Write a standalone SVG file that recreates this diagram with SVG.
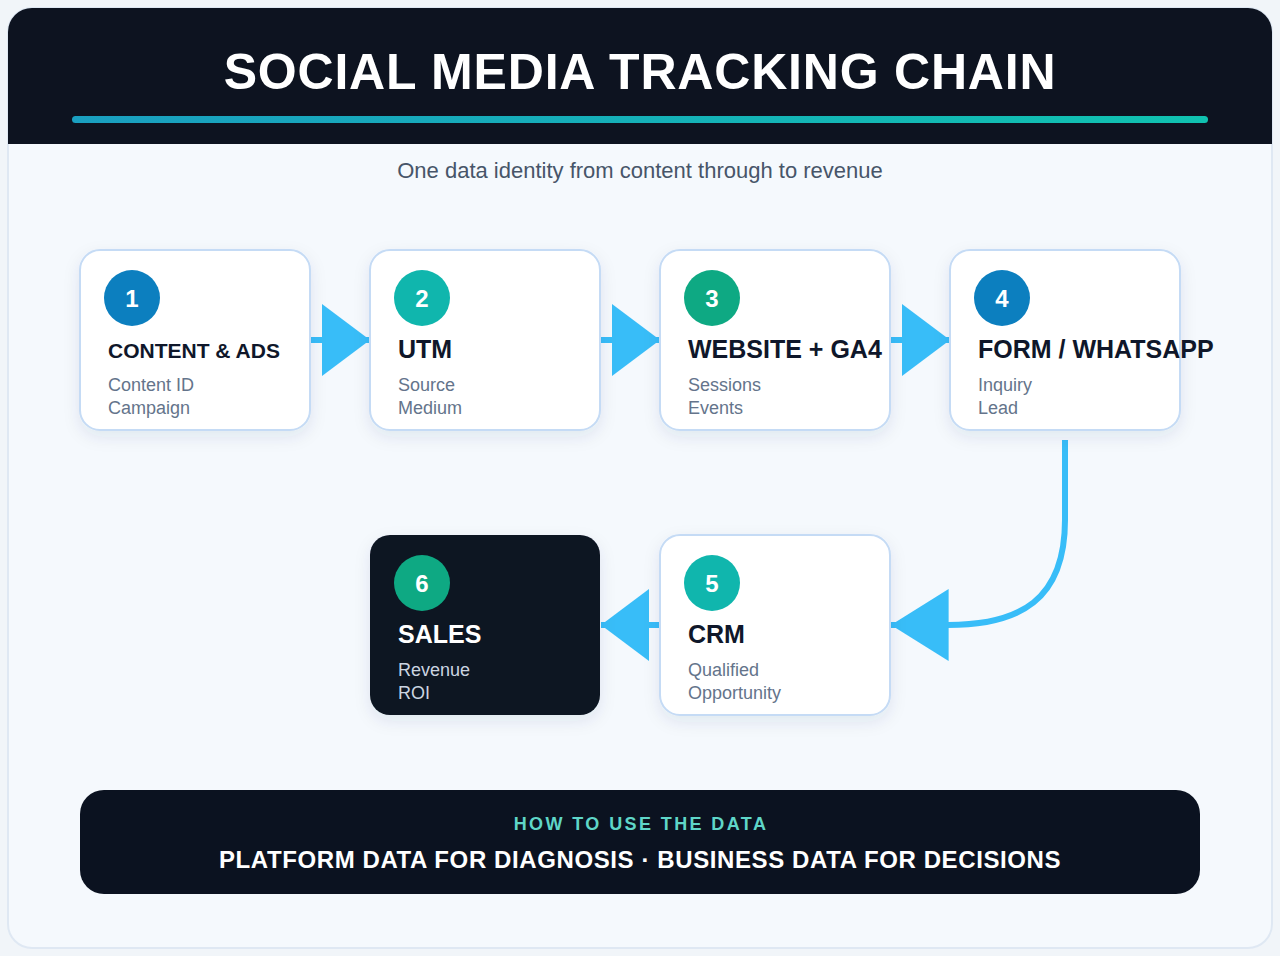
<svg xmlns="http://www.w3.org/2000/svg" width="1280" height="956" viewBox="0 0 1280 956">
<defs>
<style>
.title{font-family:"Liberation Sans",Arial,sans-serif;font-weight:bold;font-size:50px;fill:#ffffff;letter-spacing:0.8px}
.subtitle{font-family:"Liberation Sans",Arial,sans-serif;font-size:22px;fill:#475569}
.box{fill:#ffffff;stroke:#c5dbf5;stroke-width:2}
.dark{fill:#0d1624}
.num{font-family:"Liberation Sans",Arial,sans-serif;font-weight:bold;font-size:24px;fill:#ffffff;text-anchor:middle}
.ntitle{font-family:"Liberation Sans",Arial,sans-serif;font-weight:bold;font-size:25px;fill:#0f172a}
.nsub{font-family:"Liberation Sans",Arial,sans-serif;font-size:18px;fill:#64748b}
.c-blue{fill:#0c7fbf}
.c-teal{fill:#10b6ad}
.c-green{fill:#0ea983}
.conn{fill:none;stroke:#38bdf8;stroke-width:6}
.kicker{font-family:"Liberation Sans",Arial,sans-serif;font-weight:bold;font-size:18px;fill:#5fd6c8;letter-spacing:2.4px;text-anchor:middle}
.banner{font-family:"Liberation Sans",Arial,sans-serif;font-weight:bold;font-size:24px;fill:#ffffff;letter-spacing:0.6px;text-anchor:middle}
</style>
<linearGradient id="rule" x1="0" y1="0" x2="1" y2="0">
<stop offset="0" stop-color="#1a9fc0"/>
<stop offset="1" stop-color="#10c2b0"/>
</linearGradient>
<filter id="shadow" x="-20%" y="-20%" width="140%" height="150%">
<feDropShadow dx="0" dy="6" stdDeviation="8" flood-color="#1e3a5f" flood-opacity="0.09"/>
</filter>
<clipPath id="cardclip"><rect x="8" y="8" width="1264" height="940" rx="24"/></clipPath>
<marker id="arrow" viewBox="0 0 8 12" refX="8" refY="6" markerWidth="8" markerHeight="12" markerUnits="strokeWidth" orient="auto">
<path d="M0,0 L8,6 L0,12 Z" fill="#38bdf8"/>
</marker>
<marker id="arrowLong" viewBox="0 0 9.6 12" refX="9.6" refY="6" markerWidth="9.6" markerHeight="12" markerUnits="strokeWidth" orient="auto">
<path d="M0,0 L9.6,6 L0,12 Z" fill="#38bdf8"/>
</marker>
</defs>

<rect x="0" y="0" width="1280" height="956" fill="#f1f5f9"/>
<g id="card">
<rect x="8" y="8" width="1264" height="940" rx="24" fill="#f5f9fd" stroke="#dfe8f3" stroke-width="2"/>
<g clip-path="url(#cardclip)">
<rect x="8" y="8" width="1264" height="136" fill="#0d1320"/>
</g>
</g>

<g id="header">
<text class="title" x="640" y="89" text-anchor="middle">SOCIAL MEDIA TRACKING CHAIN</text>
<rect x="72" y="116" width="1136" height="7" rx="3.5" fill="url(#rule)"/>
<text class="subtitle" x="640" y="178" text-anchor="middle">One data identity from content through to revenue</text>
</g>

<g id="connectors">
<path class="conn" d="M310,340 L370,340" marker-end="url(#arrow)"/>
<path class="conn" d="M600,340 L660,340" marker-end="url(#arrow)"/>
<path class="conn" d="M890,340 L950,340" marker-end="url(#arrow)"/>
<path class="conn" d="M1065,440 L1065,520 C1065,600 1020,625 948,625 L891,625" marker-end="url(#arrowLong)"/>
<path class="conn" d="M660,625 L601,625" marker-end="url(#arrow)"/>
</g>

<g id="node1">
<rect class="box" x="80" y="250" width="230" height="180" rx="20" filter="url(#shadow)"/>
<circle class="c-blue" cx="132" cy="298" r="28"/>
<text class="num" x="132" y="307">1</text>
<text class="ntitle" x="108" y="358" style="font-size:21px">CONTENT &amp; ADS</text>
<text class="nsub" x="108" y="391">Content ID</text>
<text class="nsub" x="108" y="414">Campaign</text>
</g>

<g id="node2">
<rect class="box" x="370" y="250" width="230" height="180" rx="20" filter="url(#shadow)"/>
<circle class="c-teal" cx="422" cy="298" r="28"/>
<text class="num" x="422" y="307">2</text>
<text class="ntitle" x="398" y="358">UTM</text>
<text class="nsub" x="398" y="391">Source</text>
<text class="nsub" x="398" y="414">Medium</text>
</g>

<g id="node3">
<rect class="box" x="660" y="250" width="230" height="180" rx="20" filter="url(#shadow)"/>
<circle class="c-green" cx="712" cy="298" r="28"/>
<text class="num" x="712" y="307">3</text>
<text class="ntitle" x="688" y="358">WEBSITE + GA4</text>
<text class="nsub" x="688" y="391">Sessions</text>
<text class="nsub" x="688" y="414">Events</text>
</g>

<g id="node4">
<rect class="box" x="950" y="250" width="230" height="180" rx="20" filter="url(#shadow)"/>
<circle class="c-blue" cx="1002" cy="298" r="28"/>
<text class="num" x="1002" y="307">4</text>
<text class="ntitle" x="978" y="358">FORM / WHATSAPP</text>
<text class="nsub" x="978" y="391">Inquiry</text>
<text class="nsub" x="978" y="414">Lead</text>
</g>

<g id="node5">
<rect class="box" x="660" y="535" width="230" height="180" rx="20" filter="url(#shadow)"/>
<circle class="c-teal" cx="712" cy="583" r="28"/>
<text class="num" x="712" y="592">5</text>
<text class="ntitle" x="688" y="643">CRM</text>
<text class="nsub" x="688" y="676">Qualified</text>
<text class="nsub" x="688" y="699">Opportunity</text>
</g>

<g id="node6">
<rect class="dark" x="370" y="535" width="230" height="180" rx="20" filter="url(#shadow)"/>
<circle class="c-green" cx="422" cy="583" r="28"/>
<text class="num" x="422" y="592">6</text>
<text class="ntitle" x="398" y="643" style="fill:#ffffff">SALES</text>
<text class="nsub" x="398" y="676" style="fill:#cbd5e1">Revenue</text>
<text class="nsub" x="398" y="699" style="fill:#cbd5e1">ROI</text>
</g>

<g id="footer">
<rect x="80" y="790" width="1120" height="104" rx="24" fill="#0b1220"/>
<text class="kicker" x="641" y="830">HOW TO USE THE DATA</text>
<text class="banner" x="640" y="868">PLATFORM DATA FOR DIAGNOSIS · BUSINESS DATA FOR DECISIONS</text>
</g>
</svg>
